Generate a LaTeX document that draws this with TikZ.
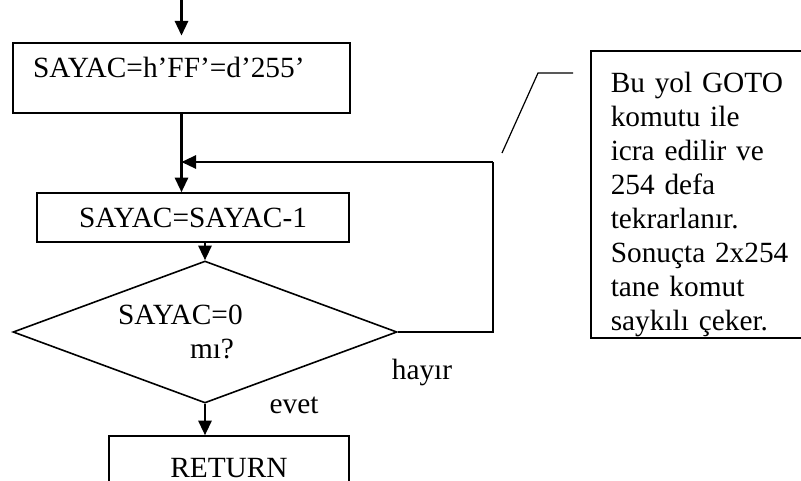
\documentclass[tikz,border=0pt]{standalone}
\usepackage{fontspec}
\setmainfont{Liberation Serif}
\usetikzlibrary{shapes.geometric, arrows.meta}
\newcommand\px{0.75pt}
\newcommand\flowFont{\fontsize{22}{25.5}\selectfont}
\tikzset{
  flowbox/.style={draw, line width=1.2pt, rectangle, inner sep=0pt, font=\flowFont},
  flowtest/.style={draw, line width=1.2pt, diamond, aspect=2.7, inner sep=0pt, font=\flowFont,
    minimum width=384*\px, minimum height=142*\px},
  flowarrow/.style={line width=1.6pt, -{Triangle[length=11pt,width=10pt]}},
  flowline/.style={line width=1.2pt},
  flowlabel/.style={font=\flowFont, inner sep=0pt},
}

\begin{document}
\begin{tikzpicture}[x=\px, y=-\px]
    \useasboundingbox (0,0) rectangle (801,480);

    \node[flowbox, minimum width=337*\px, minimum height=70*\px, text width=297*\px,
      align=left, text depth=16pt] (init) at (181.5,78) {SAYAC=h’FF’=d’255’};
    \node[flowbox, minimum width=312*\px, minimum height=49*\px] (dec) at (193,217.5) {SAYAC=SAYAC-1};
    \node[flowtest, text width=174*\px, align=left] (test) at (205,332) {SAYAC=0\\\hspace*{54pt}mı?};
    \node[flowbox, minimum width=240*\px, minimum height=64*\px] (ret) at (229,468) {RETURN};

    \node[flowbox, anchor=north west, minimum width=240*\px, minimum height=287*\px,
      text width=200*\px, inner xsep=18*\px, align=left, text height=31pt] (note) at (590,50)
      {Bu yol GOTO\\komutu ile\\icra edilir ve\\254 defa\\tekrarlanır.\\Sonuçta 2x254\\tane komut\\saykılı çeker.};

    \node[flowlabel] (no) at (422,372) {hayır};
    \node[flowlabel] (yes) at (294,405) {evet};

    \coordinate (entry) at (181.5,0);
    \coordinate (merge) at (493,162);
    \draw[flowarrow, shorten >=5pt] (entry) -- (init.north);
    \draw[flowarrow] (init.south) -- (init.south |- dec.north);
    \draw[flowline] (test.east) -| (merge);
    \draw[flowarrow] (merge) -- (merge -| init.south);
    \draw[flowarrow] (test.north |- dec.south) -- (test.north);
    \draw[flowarrow] (test.south) -- (test.south |- ret.north);

    \coordinate (leadA) at (573,73);
    \coordinate (leadB) at (538,73);
    \coordinate (leadC) at (502,153);
    \draw[line width=0.9pt] (leadA) -- (leadB) -- (leadC);
\end{tikzpicture}
\end{document}
